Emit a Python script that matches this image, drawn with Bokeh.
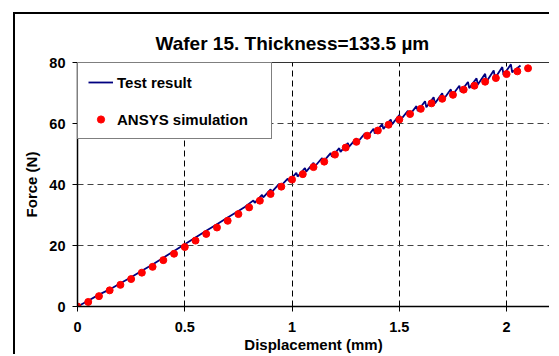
from bokeh.plotting import figure
from bokeh.models import Range1d, Legend, LegendItem, FixedTicker
from bokeh.embed import file_html
from bokeh.resources import INLINE

# ---- data -------------------------------------------------------------
disp_test = [0.0, 0.05, 0.10, 0.15, 0.20, 0.25, 0.30, 0.35, 0.40, 0.45, 0.50,
             0.55, 0.60, 0.65, 0.70, 0.75, 0.78,
             0.82, 0.826, 0.86, 0.866, 0.90, 0.906, 0.94, 0.946, 0.98, 0.986,
             1.02, 1.026, 1.06, 1.066, 1.10, 1.106, 1.14, 1.146, 1.18, 1.186,
             1.22, 1.226, 1.26, 1.266, 1.30, 1.306, 1.34, 1.346, 1.38, 1.386,
             1.42, 1.426, 1.46, 1.466, 1.50, 1.506, 1.54, 1.546, 1.58, 1.586,
             1.62, 1.626, 1.66, 1.666, 1.70, 1.706, 1.74, 1.746, 1.78, 1.786,
             1.82, 1.826, 1.86, 1.866, 1.90, 1.906, 1.94, 1.946, 1.98, 1.986,
             2.02, 2.026, 2.065]
force_test = [0.0, 1.9, 3.9, 5.6, 7.6, 9.6, 11.7, 13.8, 16.0, 18.2, 20.4,
              22.6, 24.8, 27.0, 29.2, 31.3, 32.6,
              34.8, 34.0, 36.6, 35.8, 38.4, 37.6, 40.2, 39.4, 41.9, 41.1,
              43.8, 42.6, 45.4, 44.2, 47.1, 45.9, 48.7, 47.5, 50.3, 49.1,
              51.9, 50.7, 53.6, 52.4, 55.1, 53.9, 56.8, 55.2, 58.3, 56.7,
              59.8, 58.2, 61.3, 59.7, 62.8, 61.2, 64.2, 62.6, 65.7, 64.1,
              67.3, 65.3, 68.6, 66.6, 69.9, 67.9, 71.2, 69.2, 72.4, 70.4,
              73.6, 71.6, 74.8, 72.8, 76.3, 73.7, 77.4, 74.8, 78.5, 75.9,
              79.4, 76.8, 79.0]

disp_sim = [0.0, 0.05, 0.10, 0.15, 0.20, 0.25, 0.30, 0.35, 0.40, 0.45, 0.50,
            0.55, 0.60, 0.65, 0.70, 0.75, 0.80, 0.85, 0.90, 0.95, 1.00,
            1.05, 1.10, 1.15, 1.20, 1.25, 1.30, 1.35, 1.40, 1.45, 1.50,
            1.55, 1.60, 1.65, 1.70, 1.75, 1.80, 1.85, 1.90, 1.95, 2.00,
            2.05, 2.10]
force_sim = [0.0, 1.5, 3.4, 5.3, 7.1, 9.0, 11.1, 13.0, 15.2, 17.3, 19.5,
             21.6, 23.8, 25.9, 28.1, 30.3, 32.5, 34.7, 36.9, 39.3, 41.6,
             43.4, 45.7, 47.5, 49.8, 52.1, 54.0, 56.0, 57.7, 59.6, 61.3,
             63.1, 64.8, 66.6, 68.1, 69.4, 71.1, 72.4, 73.7, 74.9, 76.2,
             77.1, 78.1]

x_ticks = [0, 0.5, 1, 1.5, 2]
x_tick_labels = ["0", "0.5", "1", "1.5", "2"]
y_ticks = [0, 20, 40, 60, 80]
y_tick_labels = ["0", "20", "40", "60", "80"]

series_names = ["Test result", "ANSYS simulation"]
title_text = "Wafer 15. Thickness=133.5 µm"
x_label = "Displacement (mm)"
y_label = "Force (N)"

FONT = "Liberation Sans"

# ---- figure -----------------------------------------------------------
# canvas starts at (15, 14) on the page: 13/12 px margin + 2 px frame border
p = figure(width=536, height=342, output_backend="svg", toolbar_location=None,
           x_range=Range1d(0, 2.2), y_range=Range1d(0, 80),
           min_border_left=62, min_border_top=48, min_border_right=2,
           min_border_bottom=50)
p.background_fill_color = "white"
p.border_fill_color = "white"
p.outline_line_color = "#333333"
p.outline_line_width = 1

# outer chart frame (its left and top edges are visible in the picture)
p.styles = {
    "margin-left": "13px",
    "margin-top": "12px",
    "border-left": "2px solid black",
    "border-top": "2px solid black",
    "overflow": "hidden",
}

# title
p.title.text = title_text
p.title.align = "left"
p.title.offset = 78
p.title.standoff = 17
p.title.text_font = FONT
p.title.text_font_size = "19px"
p.title.text_font_style = "bold"
p.title.text_color = "black"

# grids
p.xgrid.grid_line_color = "black"
p.xgrid.grid_line_dash = "6 4"
p.xgrid.grid_line_width = 1
p.ygrid.grid_line_color = "#444444"
p.ygrid.grid_line_dash = "6 4"
p.ygrid.grid_line_width = 1

# axes
p.xaxis.ticker = FixedTicker(ticks=x_ticks)
p.xaxis.major_label_overrides = dict(zip(x_ticks, x_tick_labels))
p.yaxis.ticker = FixedTicker(ticks=y_ticks)
p.yaxis.major_label_overrides = dict(zip(y_ticks, y_tick_labels))
for ax in (p.xaxis, p.yaxis):
    ax.axis_line_color = "black"
    ax.axis_line_width = 1.5
    ax.major_tick_line_color = "black"
    ax.major_tick_out = 5
    ax.major_tick_in = 0
    ax.minor_tick_line_color = None
    ax.major_label_text_font = FONT
    ax.major_label_text_font_size = "14.5px"
    ax.major_label_text_font_style = "bold"
    ax.major_label_text_color = "black"
    ax.axis_label_text_font = FONT
    ax.axis_label_text_font_size = "15px"
    ax.axis_label_text_font_style = "bold"
    ax.axis_label_text_color = "black"
p.xaxis.axis_label = x_label
p.yaxis.axis_label = y_label
p.xaxis.major_label_standoff = 10
p.xaxis.axis_label_standoff = 1
p.yaxis.major_label_standoff = 7
p.yaxis.axis_label_standoff = 6

# data
r_line = p.line(disp_test, force_test, line_color="#000080", line_width=1.8)
r_pts = p.scatter(disp_sim, force_sim, size=7, fill_color="#FF0000",
                  line_color="#FF0000")

legend = Legend(items=[LegendItem(label=series_names[0], renderers=[r_line]),
                       LegendItem(label=series_names[1], renderers=[r_pts])],
                location="top_left", margin=0, padding=10, spacing=19,
                glyph_height=18, glyph_width=25, label_height=18,
                label_width=144, label_standoff=4,
                label_text_font=FONT, label_text_font_style="bold",
                label_text_font_size="15px", label_text_color="black",
                border_line_color="black", border_line_width=1,
                background_fill_color="white", background_fill_alpha=1)
p.add_layout(legend)

open("out.html", "w").write(file_html(p, INLINE))
